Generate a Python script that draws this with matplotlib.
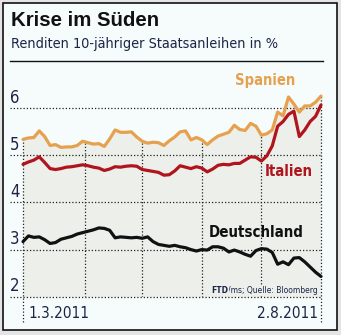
import numpy as np
import pandas as pd
import matplotlib
matplotlib.use("Agg")
import matplotlib.pyplot as plt
from matplotlib import font_manager as fm
from matplotlib.patches import Rectangle
from matplotlib.lines import Line2D

# trading days 1.3.2011 - 2.8.2011, values read every second trading day
days = pd.bdate_range("2011-03-01", "2011-08-02")
idx = np.arange(len(days))[::2]

spanien = [5.34, 5.37, 5.38, 5.52, 5.40, 5.21, 5.23, 5.17, 5.18, 5.18,
           5.21, 5.30, 5.27, 5.24, 5.25, 5.19, 5.35, 5.54, 5.49, 5.49,
           5.50, 5.39, 5.30, 5.26, 5.28, 5.27, 5.21, 5.31, 5.39, 5.50,
           5.52, 5.33, 5.38, 5.33, 5.23, 5.33, 5.41, 5.45, 5.49, 5.64,
           5.55, 5.53, 5.68, 5.62, 5.43, 5.46, 5.54, 5.92, 5.84, 6.24,
           6.09, 5.92, 6.05, 6.05, 6.13, 6.26]
italien = [4.81, 4.86, 4.90, 4.97, 4.85, 4.72, 4.70, 4.72, 4.75, 4.76,
           4.78, 4.80, 4.78, 4.75, 4.73, 4.68, 4.71, 4.76, 4.75, 4.77,
           4.78, 4.77, 4.70, 4.68, 4.66, 4.64, 4.58, 4.59, 4.67, 4.78,
           4.75, 4.72, 4.76, 4.73, 4.65, 4.71, 4.79, 4.81, 4.80, 4.83,
           4.83, 4.90, 4.97, 4.96, 4.88, 4.99, 5.20, 5.62, 5.72, 5.87,
           5.94, 5.40, 5.54, 5.72, 5.83, 6.07]
deutschland = [3.17, 3.29, 3.26, 3.27, 3.21, 3.13, 3.15, 3.22, 3.25, 3.28,
               3.33, 3.36, 3.39, 3.42, 3.46, 3.45, 3.41, 3.25, 3.27, 3.26,
               3.25, 3.26, 3.24, 3.27, 3.17, 3.11, 3.09, 3.07, 3.09, 3.06,
               3.04, 3.00, 2.97, 3.00, 2.99, 3.06, 3.06, 3.03, 2.95, 2.99,
               2.95, 2.90, 2.86, 2.98, 3.02, 3.01, 2.94, 2.69, 2.74, 2.68,
               2.82, 2.83, 2.74, 2.63, 2.52, 2.43]
yticks = [2, 3, 4, 5, 6]
date_labels = ["1.3.2011", "2.8.2011"]

c_es = "#e6a14f"
c_it = "#b0141d"
c_de = "#111111"
navy = "#1c2548"
fillc = "#edefea"


# narrow font if one is installed, else Liberation Sans (widths fitted below)
def find_font(patterns):
    for p in patterns:
        for f in fm.fontManager.ttflist:
            if f.fname.endswith(p):
                return fm.FontProperties(fname=f.fname)
    return None

reg = find_font(["LiberationSansNarrow-Regular.ttf", "DejaVuSansCondensed.ttf",
                 "RobotoCondensed-Regular.ttf"]) or fm.FontProperties(family="Liberation Sans")
bold = find_font(["LiberationSansNarrow-Bold.ttf", "DejaVuSansCondensed-Bold.ttf",
                  "RobotoCondensed-Bold.ttf"]) or fm.FontProperties(family="Liberation Sans", weight="bold")

W, H = 341, 335
fig = plt.figure(figsize=(W / 100, H / 100), dpi=100, facecolor="#e4e4e4")
fig.add_artist(Rectangle((3 / W, 1 - 330 / H), 334 / W, 327 / H,
                         transform=fig.transFigure, facecolor="#f6fbfb",
                         edgecolor="#111111", lw=1.2, zorder=0))
renderer = fig.canvas.get_renderer()


def fit(t, width_px, size):
    t.set_fontsize(size)
    w = t.get_window_extent(renderer).width
    t.set_fontsize(size * width_px / w)


title = fig.text(11 / W, 1 - 26.5 / H, "Krise im Süden", weight="bold",
                 family=["Liberation Sans", "DejaVu Sans"], color="#111111", va="baseline")
fit(title, 149, 14)
sub = fig.text(11 / W, 1 - 48 / H, "Renditen 10-jähriger Staatsanleihen in %",
               fontproperties=reg, color=navy, va="baseline")
fit(sub, 268, 11)
fig.add_artist(Line2D([10 / W, 323 / W], [1 - 61 / H] * 2, color="#111111", lw=1.0))

# axes: y=2 at pixel 296.7, 47.1 px per percentage point
ax = fig.add_axes([23 / W, 1 - 296.7 / H, 298 / W, (296.7 - 64) / H])
ax.set_xlim(0, len(days) - 1)
ax.set_ylim(2, 2 + (296.7 - 64) / 47.1)
ax.axis("off")

poly = ax.fill_between(idx, spanien, 2, color=fillc, lw=0, zorder=1)

dot = (0, (1, 1.6))
for v in yticks:
    ax.plot([-13 / 298, 1], [v, v], transform=ax.get_yaxis_transform(),
            clip_on=False, ls=dot, color="#222222", lw=0.9, zorder=2)
    ax.annotate(str(v), xy=(-13 / 298, v), xycoords=ax.get_yaxis_transform(),
                xytext=(0, 4), textcoords="offset points", fontproperties=reg,
                fontsize=12, color=navy, va="baseline", ha="left")

# month gridlines, only inside the shaded area
months = [i for i in range(1, len(days)) if days[i].month != days[i - 1].month and days[i].month < 8]
for m in months:
    ln, = ax.plot([m, m], [2, 7], ls=dot, color="#222222", lw=0.9, zorder=2)
    ln.set_clip_path(poly.get_paths()[0], ax.transData)
low = 2 - 25.3 / 47.1
for m, top in [(idx[0], spanien[0]), (idx[-1], spanien[-1])]:
    ax.plot([m, m], [low, top], ls=dot, color="#222222", lw=0.9, zorder=2, clip_on=False)

for vals, col in [(spanien, c_es), (italien, c_it), (deutschland, c_de)]:
    ax.plot(idx, vals, color=col, lw=2.3, solid_joinstyle="round",
            solid_capstyle="round", zorder=4, clip_on=False)

for name, col, xy, wpx in [("Spanien", c_es, (89.5, 6.60), 60),
                           ("Italien", c_it, (98.2, 4.66), 48),
                           ("Deutschland", c_de, (86.2, 3.37), 95)]:
    t = ax.text(xy[0], xy[1], name, color=col, fontproperties=bold,
                ha="center", va="center")
    fit(t, wpx, 12)

src = ax.text(108.9, 2.08, "/ms; Quelle: Bloomberg", fontproperties=reg,
              color=navy, ha="right", va="baseline", zorder=3,
              bbox=dict(facecolor=fillc, edgecolor="none", pad=0.6))
fit(src, 91, 7)
ftd = ax.annotate("FTD", xy=(0, 0), xycoords=src, fontproperties=bold,
                  color=navy, ha="right", va="bottom", zorder=3,
                  bbox=dict(facecolor=fillc, edgecolor="none", pad=0.6))
ftd.set_fontsize(src.get_fontsize())

d1 = ax.annotate(date_labels[0], xy=(0, 2), xytext=(3.6, -15.1), textcoords="offset points",
                 fontproperties=reg, color=navy, ha="left", va="baseline",
                 annotation_clip=False)
fit(d1, 61, 12)
d2 = ax.annotate(date_labels[1], xy=(len(days) - 1, 2), xytext=(-2.2, -15.1),
                 textcoords="offset points", fontproperties=reg, color=navy,
                 ha="right", va="baseline", annotation_clip=False)
fit(d2, 61, 12)

fig.savefig("out.png", dpi=100, facecolor=fig.get_facecolor())
